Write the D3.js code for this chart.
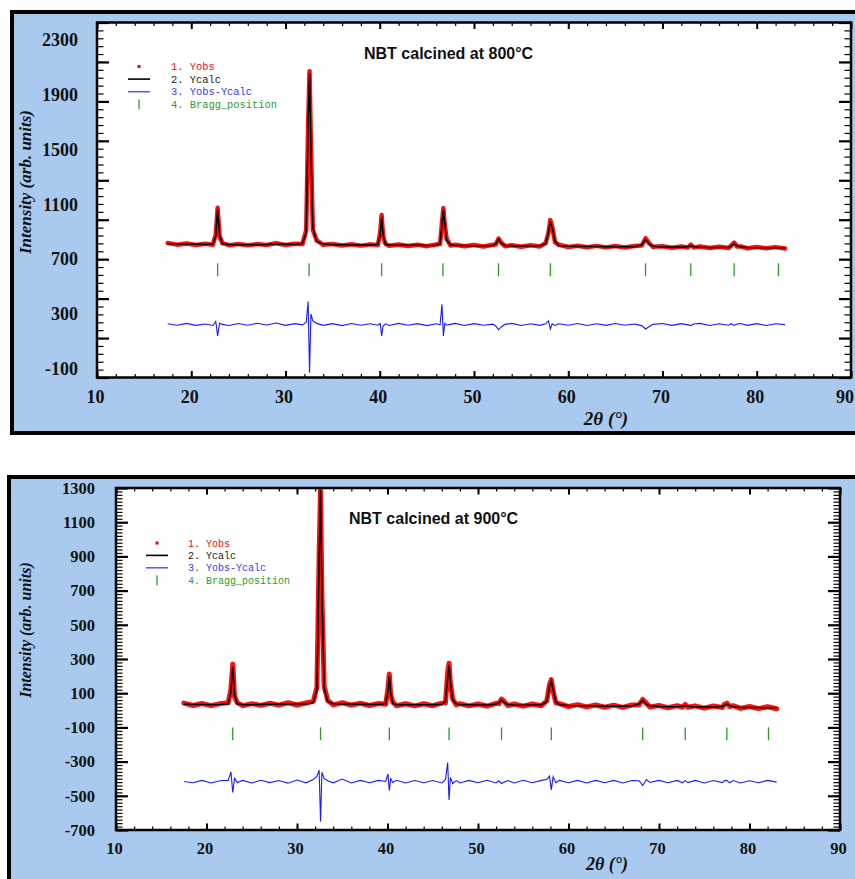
<!DOCTYPE html>
<html lang="en">
<head>
<meta charset="utf-8">
<title>NBT calcined - Rietveld</title>
<script src="https://cdn.jsdelivr.net/npm/d3@7"></script>
<style>
  body { margin: 0; background: #fff; }
  svg { display: block; }
  .num text { font-family: "Liberation Serif", "Times New Roman", serif; font-weight: bold; fill: #111; }
  .ttl { font-family: "Liberation Serif", "Times New Roman", serif; font-weight: bold; font-style: italic; fill: #111; }
  .head { font-family: "Liberation Sans", Arial, sans-serif; font-weight: bold; font-size: 16px; fill: #111; }
  .leg { font-family: "Liberation Mono", "Courier New", monospace; }
</style>
</head>
<body>
<svg width="855" height="879"></svg>
<script>

// ---- panel 1 : 800 C ----
const tth1 = [
  17.5, 18.5, 19.5, 20.5, 21.5, 22.3, 22.6, 22.8, 23.0, 23.3,
  24, 25, 26, 27, 28, 29, 30, 31, 31.8, 32.2,
  32.4, 32.55, 32.7, 32.9, 33.3, 34, 35, 36, 37, 38,
  39, 39.8, 40.05, 40.2, 40.35, 40.6, 41, 42, 43, 44,
  45, 46, 46.4, 46.6, 46.75, 46.9, 47.1, 47.5, 48, 49,
  50, 51, 52, 52.3, 52.6, 52.9, 53.3, 54, 55, 56,
  57, 57.6, 57.9, 58.1, 58.3, 58.6, 59, 60, 61, 62,
  63, 64, 65, 66, 67, 67.8, 68.2, 68.6, 69, 70,
  71, 72, 72.7, 73.0, 73.3, 74, 75, 76, 77, 77.3,
  77.6, 77.9, 78.3, 79, 80, 81, 82, 83
];
const ycalc1 = [
  812, 811, 810, 809, 808, 810, 870, 1065, 880, 812,
  807, 806, 806, 806, 807, 811, 809, 808, 815, 900,
  1700, 2060, 1500, 930, 830, 810, 806, 805, 804, 804,
  803, 808, 880, 1010, 880, 808, 803, 802, 801, 801,
  800, 802, 815, 950, 1060, 960, 840, 805, 800, 799,
  798, 798, 800, 812, 845, 815, 800, 797, 796, 796,
  798, 812, 900, 975, 930, 830, 800, 794, 793, 792,
  792, 791, 791, 790, 791, 805, 845, 810, 795, 789,
  788, 788, 790, 800, 791, 787, 786, 786, 787, 795,
  815, 798, 788, 785, 784, 784, 783, 783
];
const yobs1 = [
  818, 806, 815, 804, 812, 806, 880, 1075, 868, 817,
  802, 811, 801, 810, 803, 816, 804, 813, 810, 912,
  1680, 2072, 1520, 915, 838, 805, 811, 800, 809, 799,
  808, 803, 895, 1022, 868, 813, 798, 807, 796, 806,
  795, 807, 810, 965, 1072, 948, 848, 800, 805, 794,
  803, 793, 805, 807, 850, 820, 795, 802, 791, 801,
  793, 817, 890, 985, 938, 822, 805, 789, 798, 787,
  797, 786, 796, 785, 796, 800, 852, 815, 790, 794,
  783, 793, 785, 806, 786, 792, 781, 791, 782, 800,
  820, 793, 793, 780, 789, 779, 788, 778
];
const diff1 = [
  228, 218, 231, 217, 227, 216, 245, 140, 232, 224,
  216, 230, 218, 232, 219, 234, 217, 229, 220, 240,
  390, -130, 300, 250, 231, 217, 229, 215, 230, 218,
  228, 218, 230, 140, 212, 228, 216, 231, 218, 229,
  215, 228, 220, 370, 140, 232, 218, 224, 231, 216,
  229, 217, 226, 212, 185, 205, 224, 231, 216, 228,
  217, 228, 250, 190, 228, 216, 228, 218, 230, 216,
  228, 217, 230, 218, 227, 215, 190, 208, 224, 230,
  217, 229, 220, 215, 227, 231, 216, 228, 218, 229,
  216, 226, 230, 217, 229, 216, 228, 222
];
const bragg1 = [22.8, 32.5, 40.2, 46.7, 52.6, 58.1, 68.2, 73.0, 77.6, 82.3];
const yLabels1 = [-100, 300, 700, 1100, 1500, 1900, 2300];

// ---- panel 2 : 900 C ----
const tth2 = [
  17.5, 18.5, 19.5, 20.5, 21.5, 22.4, 22.7, 22.9, 23.1, 23.4,
  24, 25, 26, 27, 28, 29, 30, 31, 31.8, 32.2,
  32.45, 32.6, 32.75, 33.0, 33.4, 34, 35, 36, 37, 38,
  39, 39.8, 40.05, 40.2, 40.35, 40.6, 41, 42, 43, 44,
  45, 46, 46.4, 46.65, 46.8, 46.95, 47.2, 47.6, 48, 49,
  50, 51, 52, 52.3, 52.6, 52.9, 53.3, 54, 55, 56,
  57, 57.6, 57.9, 58.1, 58.3, 58.6, 59, 60, 61, 62,
  63, 64, 65, 66, 67, 67.8, 68.2, 68.6, 69, 70,
  71, 72, 72.6, 72.9, 73.2, 74, 75, 76, 77, 77.2,
  77.5, 77.8, 78.2, 79, 80, 81, 82, 83
];
const ycalc2 = [
  35, 34, 34, 33, 34, 38, 110, 255, 90, 38,
  33, 33, 34, 35, 36, 38, 37, 37, 45, 120,
  900, 1285, 700, 130, 50, 38, 37, 36, 35, 34,
  34, 40, 110, 200, 100, 40, 33, 32, 32, 32,
  33, 36, 50, 190, 265, 170, 60, 38, 33, 32,
  31, 31, 35, 45, 60, 45, 34, 31, 30, 31,
  33, 50, 140, 172, 120, 50, 33, 28, 27, 26,
  25, 24, 24, 23, 25, 38, 58, 35, 25, 22,
  21, 21, 24, 28, 24, 20, 19, 19, 22, 28,
  36, 28, 21, 17, 16, 16, 15, 15
];
const yobs2 = [
  42, 28, 40, 27, 39, 44, 125, 270, 80, 45,
  27, 39, 29, 41, 30, 44, 31, 43, 52, 135,
  930, 1295, 680, 140, 57, 32, 44, 30, 41, 28,
  40, 35, 125, 212, 92, 46, 27, 38, 26, 38,
  27, 42, 44, 220, 275, 160, 66, 32, 39, 26,
  37, 25, 41, 39, 66, 51, 28, 37, 24, 37,
  27, 56, 150, 180, 112, 44, 39, 22, 33, 20,
  31, 18, 30, 17, 31, 32, 64, 41, 19, 28,
  15, 27, 18, 34, 18, 26, 13, 25, 16, 34,
  42, 22, 27, 11, 22, 10, 21, 9
];
const diff2 = [
  -416, -424, -410, -425, -412, -410, -360, -480, -398, -422,
  -410, -425, -409, -423, -411, -426, -408, -424, -405, -385,
  -350, -650, -362, -398, -412, -424, -402, -425, -410, -424,
  -410, -416, -372, -470, -400, -422, -409, -425, -411, -424,
  -411, -425, -405, -305, -525, -392, -428, -411, -425, -410,
  -424, -409, -425, -412, -428, -420, -411, -425, -409, -424,
  -410, -405, -385, -465, -388, -424, -410, -424, -410, -425,
  -410, -424, -410, -425, -411, -412, -440, -405, -422, -410,
  -424, -410, -424, -411, -423, -410, -425, -411, -423, -412,
  -410, -424, -411, -425, -412, -424, -410, -420
];
const bragg2 = [22.9, 32.6, 40.2, 46.8, 52.6, 58.1, 68.2, 72.9, 77.5, 82.1];
const yLabels2 = [-700, -500, -300, -100, 100, 300, 500, 700, 900, 1100, 1300];

const xLabels = [10, 20, 30, 40, 50, 60, 70, 80, 90];
const legendNames = ['1. Yobs', '2. Ycalc', '3. Yobs-Ycalc', '4. Bragg_position'];
const legendColors = ['#f01010', '#222222', '#3a3aef', '#2e9b2e'];

const svg = d3.select('svg');

function drawPanel(p) {
  const x = d3.scaleLinear().domain([10, 90]).range([p.left, p.right]);
  const y = d3.scaleLinear().domain(p.yDomain).range([p.bottom, p.top]);
  const g = svg.append('g');

  // blue frame
  g.append('rect')
    .attr('x', p.frame[0]).attr('y', p.frame[1])
    .attr('width', 1000).attr('height', p.frame[2])
    .attr('fill', '#a9caee').attr('stroke', '#000').attr('stroke-width', 4);

  g.append('rect')
    .attr('x', p.left).attr('y', p.top)
    .attr('width', p.right - p.left).attr('height', p.bottom - p.top)
    .attr('fill', '#fff');

  const clipId = 'clip' + p.id;
  g.append('clipPath').attr('id', clipId).append('rect')
    .attr('x', p.left).attr('y', p.top)
    .attr('width', p.right - p.left).attr('height', p.bottom - p.top);
  const plot = g.append('g').attr('clip-path', `url(#${clipId})`);

  const pts = p.tth.map((t, i) => ({ t: t, obs: p.yobs[i], calc: p.ycalc[i], diff: p.diff[i] }));
  const line = key => d3.line().x(d => x(d.t)).y(d => y(d[key]));

  plot.append('path').datum(pts)
    .attr('d', line('obs'))
    .attr('fill', 'none').attr('stroke', '#ff1010')
    .attr('stroke-width', p.band).attr('stroke-linejoin', 'round').attr('stroke-linecap', 'round');

  plot.selectAll('rect.obs').data(pts).join('rect')
    .attr('class', 'obs')
    .attr('x', d => x(d.t) - 1.6).attr('y', d => y(d.obs) - 1.6)
    .attr('width', 3.2).attr('height', 3.2).attr('fill', '#ff1010');

  plot.append('path').datum(pts)
    .attr('d', line('calc'))
    .attr('fill', 'none').attr('stroke', '#000').attr('stroke-width', 1.5);

  plot.append('path').datum(pts)
    .attr('d', line('diff'))
    .attr('fill', 'none').attr('stroke', '#1a1aff').attr('stroke-width', 1.1);

  plot.selectAll('line.bragg').data(p.bragg).join('line')
    .attr('class', 'bragg')
    .attr('x1', d => x(d)).attr('x2', d => x(d))
    .attr('y1', y(p.braggRange[0])).attr('y2', y(p.braggRange[1]))
    .attr('stroke', '#2e9b2e').attr('stroke-width', 1.3);

  // inward tick marks on all four sides
  const marks = (axisFn, scale, vals, size, w, tx, ty) => {
    g.append('g').attr('transform', `translate(${tx},${ty})`)
      .call(axisFn(scale).tickValues(vals).tickSize(size).tickFormat(''))
      .call(s => s.select('.domain').remove())
      .selectAll('line').attr('stroke', '#000').attr('stroke-width', w);
  };
  const xMinor = d3.range(10, 90.01, 2);
  const xMajor = d3.range(10, 90.01, 10);
  marks(d3.axisTop, x, xMinor, 3.5, 1.2, 0, p.bottom);
  marks(d3.axisTop, x, xMajor, 6.5, 2, 0, p.bottom);
  marks(d3.axisBottom, x, xMinor, 3.5, 1.2, 0, p.top);
  marks(d3.axisBottom, x, xMajor, 6.5, 2, 0, p.top);

  const n = Math.round((p.yDomain[1] - p.yDomain[0]) / p.yMinorStep);
  const yMinor = d3.range(0, n + 1).map(i => p.yDomain[0] + i * p.yMinorStep);
  const yMajor = yMinor.filter((d, i) => i % p.yPerMajor === 0);
  marks(d3.axisRight, y, yMinor, 6.5, 1.2, p.left, 0);
  marks(d3.axisRight, y, yMajor, 12, 2.2, p.left, 0);
  marks(d3.axisLeft, y, yMinor, 6.5, 1.2, p.right, 0);
  marks(d3.axisLeft, y, yMajor, 12, 2.2, p.right, 0);

  g.append('rect')
    .attr('x', p.left).attr('y', p.top)
    .attr('width', p.right - p.left).attr('height', p.bottom - p.top)
    .attr('fill', 'none').attr('stroke', '#000').attr('stroke-width', 2.5);

  // tick labels
  g.append('g').attr('class', 'num').attr('transform', `translate(${p.left},0)`)
    .call(d3.axisLeft(y).tickValues(p.yLabels).tickSize(0).tickPadding(p.yPad).tickFormat(d => String(d)))
    .call(s => s.select('.domain').remove())
    .selectAll('text').style('font-size', p.fs + 'px');

  g.append('g').attr('class', 'num').attr('transform', `translate(-2,${p.bottom})`)
    .call(d3.axisBottom(x).tickValues(xLabels).tickSize(0).tickPadding(p.xPad).tickFormat(d => String(d)))
    .call(s => s.select('.domain').remove())
    .selectAll('text').style('font-size', p.fs + 'px')
    .each(function () {
      // keep the last label inside the page edge
      const b = this.getBBox();
      const cx = +this.parentNode.getAttribute('transform').match(/translate\(([-\d.]+)/)[1] - 2;
      const over = cx + b.x + b.width - 854;
      if (over > 0) d3.select(this).attr('x', -over);
    });

  // axis titles
  g.append('text').attr('class', 'ttl')
    .attr('transform', `translate(${p.yTitle[0]},${p.yTitle[1]}) rotate(-90)`)
    .attr('text-anchor', 'middle').attr('dy', '0.35em')
    .style('font-size', p.tfs + 'px')
    .text('Intensity (arb. units)');

  g.append('text').attr('class', 'ttl')
    .attr('x', p.xTitle[0]).attr('y', p.xTitle[1])
    .attr('text-anchor', 'middle').attr('dy', '0.35em')
    .style('font-size', p.xtfs + 'px')
    .text('2θ (°)');

  g.append('text').attr('class', 'head')
    .attr('x', p.head[0]).attr('y', p.head[1]).attr('dy', '0.35em')
    .text(p.title);

  // legend
  const lg = g.append('g').attr('transform', `translate(${p.left},${p.top})`);
  const rowY = i => p.leg[2] + i * p.leg[3];
  lg.append('rect')
    .attr('x', p.leg[0] - 1.5).attr('y', rowY(0) - 1.5)
    .attr('width', 3).attr('height', 3).attr('fill', '#ff0000');
  lg.append('line')
    .attr('x1', p.leg[0] - 11).attr('x2', p.leg[0] + 11)
    .attr('y1', rowY(1)).attr('y2', rowY(1))
    .attr('stroke', '#000').attr('stroke-width', 1.6);
  lg.append('line')
    .attr('x1', p.leg[0] - 11).attr('x2', p.leg[0] + 11)
    .attr('y1', rowY(2)).attr('y2', rowY(2))
    .attr('stroke', '#4b4bff').attr('stroke-width', 1.4);
  lg.append('line')
    .attr('x1', p.leg[0]).attr('x2', p.leg[0])
    .attr('y1', rowY(3) - 5).attr('y2', rowY(3) + 5)
    .attr('stroke', '#2e9b2e').attr('stroke-width', 1.3);
  lg.selectAll('text').data(legendNames).join('text')
    .attr('class', 'leg')
    .attr('x', p.leg[1]).attr('y', (d, i) => rowY(i)).attr('dy', '0.35em')
    .style('font-size', p.lfs + 'px')
    .attr('fill', (d, i) => legendColors[i])
    .text(d => d);
}

drawPanel({
  id: 1, title: 'NBT calcined at 800°C',
  tth: tth1, yobs: yobs1, ycalc: ycalc1, diff: diff1, bragg: bragg1,
  braggRange: [670, 575], yLabels: yLabels1,
  frame: [12, 12, 421],
  left: 97, right: 851, top: 22.5, bottom: 377.5,
  yDomain: [-164, 2428], yMinorStep: 57.6, yPerMajor: 5,
  fs: 18, yPad: 19, xPad: 13, tfs: 17, xtfs: 19, lfs: 10.4, band: 4.5,
  yTitle: [25, 182], xTitle: [606, 418], head: [364, 53],
  leg: [42, 74, 44, 12.6]
});

drawPanel({
  id: 2, title: 'NBT calcined at 900°C',
  tth: tth2, yobs: yobs2, ycalc: ycalc2, diff: diff2, bragg: bragg2,
  braggRange: [-100, -175], yLabels: yLabels2,
  frame: [9, 477, 500],
  left: 116, right: 840, top: 488, bottom: 830,
  yDomain: [-700, 1300], yMinorStep: 20, yPerMajor: 10,
  fs: 16.5, yPad: 21, xPad: 12, tfs: 16, xtfs: 18, lfs: 10, band: 5,
  yTitle: [25, 630], xTitle: [607, 864], head: [349, 518],
  leg: [41, 72, 55, 12.4]
});
</script>
</body>
</html>
